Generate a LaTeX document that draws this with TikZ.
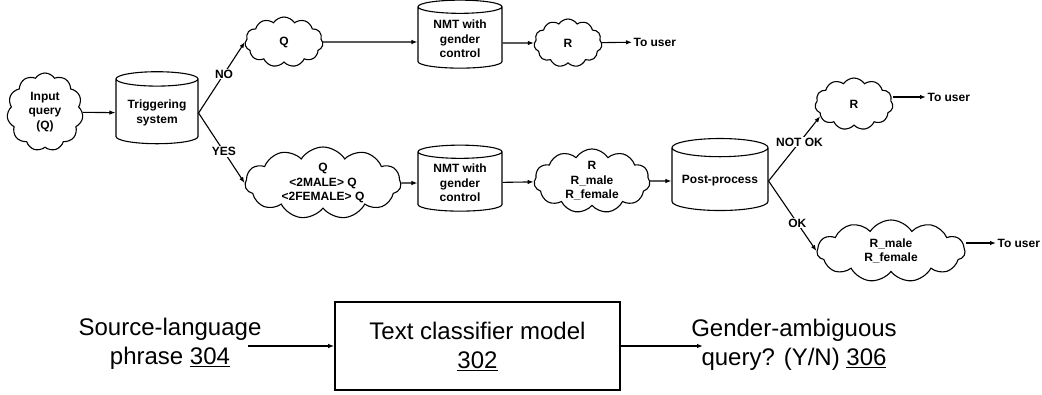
\documentclass[tikz,border=0pt]{standalone}
\usepackage{fontspec}
\setmainfont{Liberation Sans}
\usetikzlibrary{shapes.geometric,shapes.symbols,arrows.meta}

\begin{document}
\begin{tikzpicture}[x=1pt, y=-1pt, line width=1.1pt,
  every node/.style={font=\fontsize{12}{14.5}\selectfont\bfseries, align=center},
  db/.style={draw, cylinder, shape border rotate=90, aspect=0.22},
  puff/.style={draw, cloud, cloud puffs=11, cloud puff arc=115, cloud ignores aspect, inner sep=0pt},
  touser/.style={anchor=west, inner sep=1pt},
  arr/.style={-{Latex[length=6pt,width=4.5pt]}},
  lbl/.style={fill=white, inner sep=1pt}]
\useasboundingbox (0,0) rectangle (1042,394);
% upper flow
\node[puff, minimum width=76pt, minimum height=78pt] (inq) at (45,112) {Input\\query\\(Q)};
\node[db, minimum width=82pt, minimum height=72pt] (trig) at (157,113) {Triggering\\system};
\node[puff, minimum width=78pt, minimum height=50pt] (qtop) at (284,42) {Q};
\node[db, minimum width=84pt, minimum height=68pt] (nmta) at (460,39) {NMT with\\gender\\control};
\node[puff, minimum width=68pt, minimum height=48pt] (rtop) at (568,43) {R};
\node[touser] (usera) at (632,42) {To user};
\node[puff, minimum width=156pt, minimum height=66pt] (qbot) at (323,183) {Q\\<2MALE> Q\\<2FEMALE> Q};
\node[db, minimum width=84pt, minimum height=66pt] (nmtb) at (460,183) {NMT with\\gender\\control};
\node[puff, minimum width=116pt, minimum height=58pt] (rbot) at (592,181) {R\\R\_male\\R\_female};
\node[db, minimum width=96pt, minimum height=72pt] (post) at (720,181) {Post-process};
\node[puff, minimum width=78pt, minimum height=52pt] (rnok) at (854,104) {R};
\node[touser] (userb) at (926,97) {To user};
\node[puff, minimum width=148pt, minimum height=62pt] (rok) at (891,251) {R\_male\\R\_female};
\node[touser] (userc) at (996,243) {To user};

\draw[arr] (inq) -- (trig);
\draw[arr] (trig.east) -- node[lbl, pos=0.55] {NO} (qtop.west);
\draw[arr] (trig.east) -- node[lbl, pos=0.55] {YES} (qbot.west);
\draw[arr] (qtop) -- (nmta.west |- qtop);
\draw[arr] (nmta.east |- rtop) -- (rtop);
\draw[arr] (rtop) -- (usera);
\draw[arr] (qbot) -- (nmtb);
\draw[arr] (nmtb) -- (rbot);
\draw[arr] (rbot) -- (post);
\draw[arr] (post.east) -- node[lbl, pos=0.6] {NOT OK} (rnok.200);
\draw[arr] (post.east) -- node[lbl, pos=0.6] {OK} (rok.west);
\draw[arr] (rnok.east |- userb) -- (userb);
\draw[arr] (rok.east |- userc) -- (userc);

% lower flow
\begin{scope}[every node/.style={font=\fontsize{24}{29}\selectfont, align=center}]
\node (src) at (170,344) {Source-language\\phrase \underline{304}};
\node[draw, line width=1.6pt, minimum width=285pt, minimum height=88pt] (clf) at (477.5,346) {Text classifier model\\\underline{302}};
\node (ans) at (794,345) {Gender-ambiguous\\query? (Y/N) \underline{306}};
\coordinate (srcout) at (248,346);
\coordinate (ansin) at (703,346);
\draw[arr] (srcout) -- (clf.west);
\draw[arr] (clf.east) -- (ansin);
\end{scope}
\end{tikzpicture}
\end{document}
